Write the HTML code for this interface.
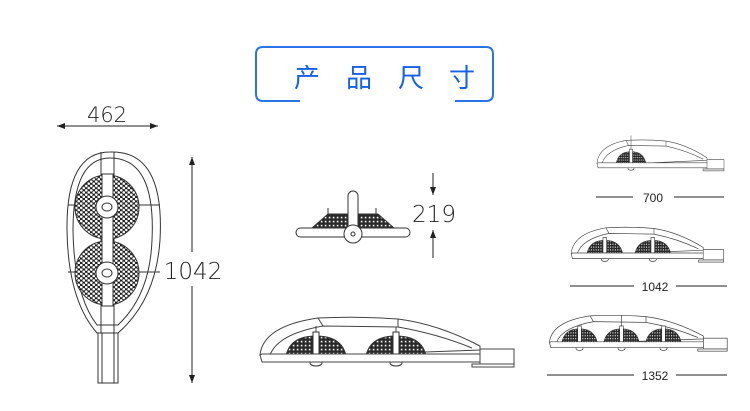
<!DOCTYPE html>
<html><head><meta charset="utf-8"><style>
html,body{margin:0;padding:0;background:#fff;}
svg{display:block;}
</style></head><body>
<svg width="750" height="411" viewBox="0 0 750 411" xmlns="http://www.w3.org/2000/svg">
<defs>
<pattern id="hex" width="5" height="4.4" patternUnits="userSpaceOnUse">
<rect width="5" height="4.4" fill="#222"/>
<circle cx="1.25" cy="1.1" r="1.3" fill="#fff"/>
<circle cx="3.75" cy="3.3" r="1.3" fill="#fff"/>
</pattern>
<pattern id="hex2" width="4" height="4" patternUnits="userSpaceOnUse">
<rect width="4" height="4" fill="#2a2a2a"/>
<rect x="0.8" y="0.8" width="1.6" height="1.6" fill="#fff"/>
</pattern>
<marker id="ar" markerWidth="8" markerHeight="6" refX="8" refY="3" orient="auto"><path d="M0,0 L8,3 L0,6 Z" fill="#222"/></marker>
<g id="lamp" stroke="#333" stroke-width="1">
<path d="M-30,20 Q-26,0 0,0 Q26,0 30,20 Z" fill="url(#hex2)"/>
<rect x="-3" y="-4" width="6" height="22" fill="#fff"/>
<ellipse cx="0" cy="27" rx="6" ry="3" fill="#fff"/>
</g>
<g id="body" fill="none" stroke="#444" stroke-width="1">
<path d="M2,41 Q5,12 60,4 Q100,2 140,5 Q180,10 222,32 L222,36 L4,44 Z" fill="#fff"/>
<path d="M12,41 Q20,20 65,12 L140,13 Q180,20 214,34"/>
<line x1="60" y1="4" x2="65" y2="12"/><line x1="140" y1="5" x2="140" y2="13"/>
</g>
<g id="base" fill="#fff" stroke="#444" stroke-width="1">
<path d="M2,41 L4,48 L222,48 Q228,44 222,40 L4,40 Z"/>
<rect x="222" y="35" width="34" height="15"/>
<rect x="214" y="50" width="42" height="3"/>
</g>
</defs>

<!-- title box -->
<g fill="none" stroke="#2a73e8" stroke-width="2">
<path d="M300,101 L263,101 Q256,101 256,94 L256,54 Q256,47 263,47 L486,47 Q493,47 493,54 L493,94 Q493,101 486,101 L455,101"/>
</g>
<g font-family="'Liberation Sans','Noto Sans CJK SC',sans-serif" font-size="26" fill="#1560e6" text-anchor="middle">
<text x="307" y="87">产</text><text x="359" y="87">品</text><text x="411" y="87">尺</text><text x="462" y="87">寸</text>
</g>

<g font-family="'DejaVu Sans','Liberation Sans',sans-serif" fill="#222">
<text x="107" y="122" font-size="21" text-anchor="middle" style="font-weight:200">462</text>
<text x="193" y="279" font-size="23" text-anchor="middle" style="font-weight:200">1042</text>
<text x="434" y="222" font-size="23" text-anchor="middle" style="font-weight:200">219</text>
</g>
<g stroke="#222" stroke-width="1">
<line x1="65" y1="126" x2="57" y2="126" marker-end="url(#ar)"/>
<line x1="65" y1="126" x2="150" y2="126"/><line x1="150" y1="126" x2="158" y2="126" marker-end="url(#ar)"/>
<line x1="192" y1="252" x2="192" y2="157" marker-end="url(#ar)"/>
<line x1="192" y1="286" x2="192" y2="383" marker-end="url(#ar)"/>
<line x1="433" y1="173" x2="433" y2="195" marker-end="url(#ar)"/>
<line x1="433" y1="258" x2="433" y2="230" marker-end="url(#ar)"/>
</g>

<!-- front lamp -->
<g fill="none" stroke="#333" stroke-width="1">
<path d="M110,152 Q165,150 160,240 Q156,300 118,333 L97,333 Q68,300 67,230 Q66,152 110,152 Z"/>
<path d="M110,158 Q156,158 152,240 Q150,295 118,325 L97,325 Q74,295 73,230 Q73,158 110,158 Z"/>
<line x1="101" y1="152" x2="101" y2="333"/><line x1="114" y1="152" x2="114" y2="333"/>
<line x1="68" y1="205" x2="160" y2="205"/><line x1="68" y1="272" x2="160" y2="272"/>
<circle cx="107" cy="207" r="32" fill="url(#hex)"/>
<circle cx="107" cy="273" r="32" fill="url(#hex)"/>
<rect x="102" y="174" width="11" height="132" fill="#fff"/>
<circle cx="107" cy="207" r="11" fill="#fff"/><ellipse cx="107" cy="207" rx="5" ry="4"/>
<circle cx="107" cy="273" r="11" fill="#fff"/><ellipse cx="107" cy="273" rx="5" ry="4"/>
<rect x="98" y="333" width="20" height="50" fill="#fff"/>
<line x1="102" y1="333" x2="102" y2="383"/><line x1="114" y1="333" x2="114" y2="383"/>
</g>

<!-- end view -->
<g fill="none" stroke="#333" stroke-width="1">
<path d="M312,228 L328,214 L378,214 L394,228 Z" fill="url(#hex2)"/>
<rect x="296" y="228" width="114" height="9" rx="4.5" fill="#fff"/>
<rect x="348" y="191" width="10" height="40" rx="5" fill="#fff"/>
<line x1="328" y1="214" x2="328" y2="208"/><line x1="376" y1="214" x2="376" y2="208"/>
<circle cx="353" cy="234" r="9" fill="#fff"/><circle cx="353" cy="234" r="2"/>
</g>

<!-- big side -->
<g transform="translate(258,314)">
<use href="#body"/>
<use href="#lamp" transform="translate(58,22)"/><use href="#lamp" transform="translate(138,22)"/>
<line x1="58" y1="12" x2="58" y2="18" stroke="#444"/><line x1="138" y1="13" x2="138" y2="18" stroke="#444"/>
<use href="#base"/>
</g>

<!-- 700: one lamp -->
<g transform="translate(596,138) scale(0.5,0.62)">
<use href="#body"/>
<use href="#lamp" transform="translate(70,22)"/>
<line x1="70" y1="-4" x2="70" y2="18" stroke="#444"/>
<use href="#base"/>
</g>
<!-- 1042 -->
<g transform="translate(570,225) scale(0.6,0.7)">
<use href="#body"/>
<use href="#lamp" transform="translate(58,22)"/><use href="#lamp" transform="translate(138,22)"/>
<use href="#base"/>
</g>
<!-- 1352: three lamps -->
<g transform="translate(548,313) scale(0.7,0.72)">
<use href="#body"/>
<use href="#lamp" transform="translate(45,22) scale(0.85,1)"/><use href="#lamp" transform="translate(105,22) scale(0.85,1)"/><use href="#lamp" transform="translate(165,22) scale(0.85,1)"/>
<line x1="105" y1="3" x2="105" y2="18" stroke="#444"/>
<use href="#base"/>
</g>

<g stroke="#222" stroke-width="1">
<line x1="596" y1="197" x2="633" y2="197"/><line x1="674" y1="197" x2="724" y2="197"/>
<line x1="570" y1="286" x2="634" y2="286"/><line x1="676" y1="286" x2="727" y2="286"/>
<line x1="547" y1="375" x2="634" y2="375"/><line x1="676" y1="375" x2="727" y2="375"/>
</g>
<g font-family="'Liberation Sans',sans-serif" font-size="12" fill="#222" text-anchor="middle">
<text x="653" y="202">700</text><text x="655" y="291">1042</text><text x="655" y="380">1352</text>
</g>
</svg>
</body></html>
